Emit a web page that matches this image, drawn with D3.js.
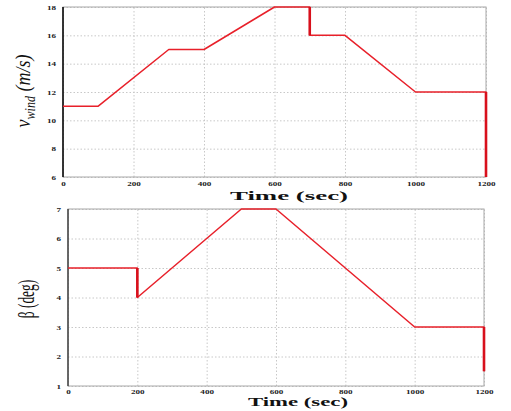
<!DOCTYPE html>
<html>
<head>
<meta charset="utf-8">
<script src="https://cdn.jsdelivr.net/npm/d3@7"></script>
<style>
  body { margin: 0; background: #fff; }
  svg { display: block; }
  .tick text { font-family: "Liberation Serif", "Times New Roman", serif; font-weight: bold; font-size: 7px; fill: #222; }
  .grid line { stroke: #c8c8c8; stroke-dasharray: 1.5 2; }
</style>
</head>
<body>
<svg width="511" height="411"></svg>
<script>
let svgWidth = 511;
let svgHeight = 411;

// wind speed panel
let windTime = [0, 100, 300, 400, 600, 700, 700, 800, 1000, 1200, 1200];
let windSpeed = [11, 11, 15, 15, 18, 18, 16, 16, 12, 12, 6];
let windTicksX = [0, 200, 400, 600, 800, 1000, 1200];
let windTicksY = [6, 8, 10, 12, 14, 16, 18];

// pitch angle panel
let pitchTime = [0, 200, 200, 500, 600, 1000, 1200, 1200];
let pitchAngle = [5, 5, 4, 7, 7, 3, 3, 1.5];
let pitchTicksX = [0, 200, 400, 600, 800, 1000, 1200];
let pitchTicksY = [1, 2, 3, 4, 5, 6, 7];

let svg = d3.select('svg');

function draw_panel(opt){
    let xScale = d3.scaleLinear().domain([0, 1200]).range([opt.x0, opt.x1]);
    let yScale = d3.scaleLinear().domain(opt.yDomain).range([opt.y1, opt.y0]);
    let g = svg.append('g');

    // grid
    g.append('g').attr('class', 'grid')
        .attr('transform', 'translate(0,' + opt.y1 + ')')
        .call(d3.axisBottom(xScale).tickValues(opt.ticksX).tickSize(-(opt.y1 - opt.y0)).tickFormat(''))
        .call(s => s.select('.domain').remove());
    g.append('g').attr('class', 'grid')
        .attr('transform', 'translate(' + opt.x0 + ',0)')
        .call(d3.axisLeft(yScale).tickValues(opt.ticksY).tickSize(-(opt.x1 - opt.x0)).tickFormat(''))
        .call(s => s.select('.domain').remove());

    // frame
    g.append('rect')
        .attr('x', opt.x0).attr('y', opt.y0)
        .attr('width', opt.x1 - opt.x0).attr('height', opt.y1 - opt.y0)
        .attr('fill', 'none').attr('stroke', '#a8a8a8').attr('stroke-width', 1);
    g.append('line')
        .attr('x1', opt.x0).attr('x2', opt.x0).attr('y1', opt.y0).attr('y2', opt.y1)
        .attr('stroke', opt.leftColor).attr('stroke-width', 1.5);

    // tick labels (stretched sideways like the source picture)
    g.append('g')
        .attr('transform', 'translate(0,' + (opt.y1 + opt.xLabelDy) + ')')
        .call(d3.axisBottom(xScale).tickValues(opt.ticksX).tickSize(0).tickPadding(0).tickFormat(d3.format('d')))
        .call(s => s.select('.domain').remove())
        .selectAll('text').attr('transform', 'scale(1.3,1)');
    g.append('g')
        .attr('transform', 'translate(' + (opt.x0 - 7) + ',0)')
        .call(d3.axisLeft(yScale).tickValues(opt.ticksY).tickSize(0).tickPadding(0).tickFormat(d3.format('d')))
        .call(s => s.select('.domain').remove())
        .selectAll('.tick text').attr('transform', 'scale(1.3,1)');

    // data line
    let pts = opt.t.map((t, i) => [xScale(t), yScale(opt.v[i])]);
    g.append('path')
        .attr('d', d3.line()(pts))
        .attr('fill', 'none').attr('stroke', '#e8202a').attr('stroke-width', 1.5)
        .attr('stroke-linejoin', 'round');
    for(let i = 1; i < opt.t.length; i++){
        if(opt.t[i] === opt.t[i - 1]){
            g.append('line')
                .attr('x1', pts[i - 1][0]).attr('y1', pts[i - 1][1])
                .attr('x2', pts[i][0]).attr('y2', pts[i][1])
                .attr('stroke', '#d8101c').attr('stroke-width', 2.6);
        }
    }

    // axis title
    g.append('text')
        .attr('x', opt.titleX).attr('y', opt.titleY)
        .attr('font-family', '"Liberation Serif", serif')
        .attr('font-weight', 'bold').attr('font-size', opt.titleSize)
        .attr('textLength', opt.titleLen).attr('lengthAdjust', 'spacingAndGlyphs')
        .attr('fill', '#111')
        .text('Time (sec)');
    return [xScale, yScale];
}

draw_panel({x0: 63, x1: 486, y0: 7, y1: 177, yDomain: [6, 18],
    ticksX: windTicksX, ticksY: windTicksY, t: windTime, v: windSpeed,
    leftColor: '#000', xLabelDy: 4, titleX: 230, titleY: 199.5, titleLen: 118, titleSize: 13.5});

draw_panel({x0: 68, x1: 484, y0: 209, y1: 386, yDomain: [1, 7],
    ticksX: pitchTicksX, ticksY: pitchTicksY, t: pitchTime, v: pitchAngle,
    leftColor: '#444', xLabelDy: 3, titleX: 248, titleY: 405.5, titleLen: 100, titleSize: 12.5});

// y-axis titles
let yl1 = svg.append('text')
    .attr('transform', 'translate(30,91) scale(1.15,1) rotate(-90)')
    .attr('text-anchor', 'middle')
    .attr('font-family', '"Liberation Serif", serif')
    .attr('font-style', 'italic').attr('font-size', 18)
    .attr('fill', '#111');
yl1.append('tspan').text('v');
yl1.append('tspan').attr('font-size', 12).attr('dy', 4).text('wind');
yl1.append('tspan').attr('dy', -4).text(' (m/s)');

svg.append('text')
    .attr('transform', 'translate(34,299) scale(1.7,1) rotate(-90)')
    .attr('text-anchor', 'middle')
    .attr('font-family', '"Liberation Serif", serif')
    .attr('font-size', 13.5)
    .attr('fill', '#111')
    .text('β (deg)');
</script>
</body>
</html>
